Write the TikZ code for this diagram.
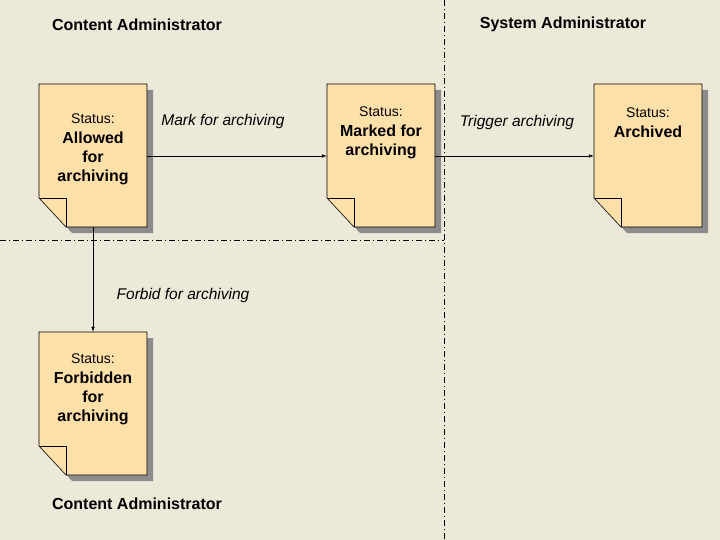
\documentclass[tikz,border=0pt]{standalone}
\usepackage{fontspec}
\setmainfont{Liberation Sans}
\usetikzlibrary{arrows.meta}
\begin{document}
\begin{tikzpicture}[x=1pt,y=-1pt,
  lbl/.style={font=\itshape\fontsize{15.5}{18}\selectfont},
  hdr/.style={font=\bfseries\fontsize{16}{18}\selectfont},
  sep/.style={black,line width=0.6pt,dash pattern=on 6pt off 3pt on 1pt off 3pt},
  conn/.style={-{Latex[length=5pt,width=3.5pt]},line width=0.5pt}]
\definecolor{bg}{HTML}{ECE9D8}
\definecolor{docfill}{HTML}{FFE0A8}
\definecolor{shad}{HTML}{8C8C8C}
\fill[bg] (0,0) rectangle (720,540);
\useasboundingbox (0,0) rectangle (720,540);
\newcommand{\docshape}[5]{% name, x, y(top), status offset, text
  \fill[shad] (#2+6,#3+6) -- (#2+114,#3+6) -- (#2+114,#3+149) -- (#2+33,#3+149) -- (#2+6,#3+120) -- cycle;
  \filldraw[fill=docfill,draw=black,line width=0.6pt] (#2,#3) -- (#2+108,#3) -- (#2+108,#3+143) -- (#2+27,#3+143) -- (#2,#3+114) -- cycle;
  \draw[line width=0.6pt] (#2,#3+114) -- (#2+27,#3+114) -- (#2+27,#3+143);
  \node[inner sep=0pt,minimum width=108pt,minimum height=143pt] (#1) at (#2+54,#3+71.5) {};
  \node[font=\fontsize{14}{16}\selectfont] (#1s) at (#2+54,#3+#4+0.5) {Status:};
  \node[anchor=north,align=center,inner sep=0pt,font=\bfseries\fontsize{16}{19}\selectfont] (#1t) at (#2+54,#3+#4+13.5) {#5};
}
\docshape{a}{39}{84}{34}{Allowed\\for\\archiving}
\docshape{b}{327}{84}{27}{Marked for\\archiving}
\docshape{c}{594}{84}{28}{Archived}
\docshape{d}{39}{332}{26}{Forbidden\\for\\archiving}
\draw[sep] (444,0) -- (444,540);
\draw[sep] (0,240) -- (444,240);
\draw[conn] (a.east|-0,156) -- (b.west|-0,156);
\draw[conn] (b.east|-0,156) -- (c.west|-0,156);
\draw[conn] (a.south) -- (d.north);
\node[lbl] (l1) at (223,121) {Mark for archiving};
\node[lbl] (l2) at (517,122) {Trigger archiving};
\node[lbl] (l3) at (183,295) {Forbid for archiving};
\node[hdr] (h1) at (137,24.5) {Content Administrator};
\node[hdr] (h2) at (563,24.5) {System Administrator};
\node[hdr] (h3) at (137,503.5) {Content Administrator};
\end{tikzpicture}
\end{document}
